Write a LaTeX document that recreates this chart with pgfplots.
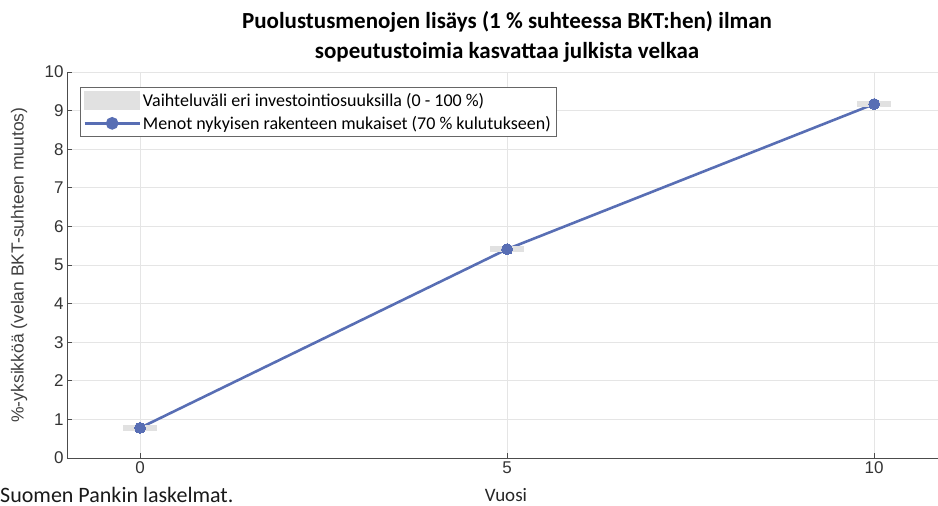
\documentclass[border=0pt]{standalone}
\usepackage{pgfplots}
\pgfplotsset{compat=1.18}
\usepackage{fontspec}
\setmainfont{Carlito}
\newfontfamily\arialf{Liberation Sans}
\definecolor{lineblue}{RGB}{88,110,180}
\definecolor{bandgray}{RGB}{225,225,225}
\begin{document}
\begin{tikzpicture}[x=1pt,y=1pt]
\useasboundingbox (0,0) rectangle (938,506);
\begin{axis}[
  at={(67pt,48pt)}, anchor=south west,
  scale only axis, width=871pt, height=386pt,
  xmin=-0.995, xmax=10.87, ymin=0, ymax=10,
  xtick={0,5,10}, ytick={0,1,...,10},
  axis x line*=bottom, axis y line*=left,
  axis line style={draw=black!70, line width=0.6pt},
  tick style={draw=black!70, line width=0.6pt},
  major tick length=5pt,
  grid=major, grid style={draw=black!10, line width=0.6pt},
  /pgf/number format/assume math mode=true,
  tick label style={font=\arialf\fontsize{17}{17}\selectfont, text=black!80},
  ylabel={\arialf\fontsize{17.5}{17.5}\selectfont\%-yksikköä (velan BKT-suhteen muutos)},
  ylabel style={text=black!75, at={(-48pt,0.5)}, anchor=center},
  legend style={at={(0.015,0.961)}, anchor=north west, draw=black!60, line width=0.6pt,
    font=\fontsize{18}{21}\selectfont, inner xsep=3pt, inner ysep=4pt, row sep=4pt, text=black},
  legend cell align=left,
  clip=false,
]
\addplot[only marks, mark=-, mark size=17pt, bandgray, mark options={line width=6pt},
  legend image code/.code={\fill[bandgray] (0pt,-9pt) rectangle (55pt,9pt);}]
  coordinates {(0,0.78) (5,5.41) (10,9.17)};
\addlegendentry{Vaihteluväli eri investointiosuuksilla (0 - 100 \%)}
\addplot[lineblue, line width=2.6pt, mark=*, mark size=5.5pt, mark options={fill=lineblue, draw=lineblue, line width=0pt},
  legend image code/.code={\draw[lineblue, line width=2.6pt] (0pt,0pt) -- (55pt,0pt); \fill[lineblue] (27.5pt,0pt) circle (5pt);}]
  coordinates {(0,0.78) (5,5.41) (10,9.17)};
\addlegendentry{Menot nykyisen rakenteen mukaiset (70 \% kulutukseen)}
\end{axis}
\node[font=\bfseries\fontsize{23}{30}\selectfont, align=center] at (507,469) {Puolustusmenojen lisäys (1 \% suhteessa BKT:hen) ilman\\sopeutustoimia kasvattaa julkista velkaa};
\node[font=\fontsize{19}{19}\selectfont, text=black!85] at (506,11) {Vuosi};
\node[font=\fontsize{22}{22}\selectfont, anchor=base west, text=black!90, inner sep=0pt] at (0,3) {Suomen Pankin laskelmat.};
\end{tikzpicture}
\end{document}
